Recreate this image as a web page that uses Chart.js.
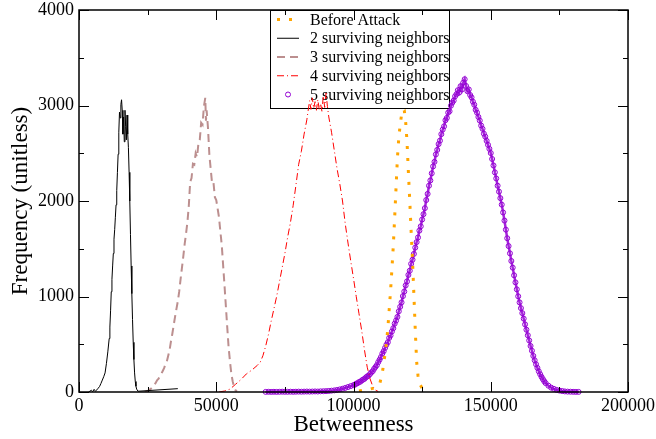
<!DOCTYPE html>
<html>
<head>
<meta charset="utf-8">
<title>Betweenness</title>
<script src="https://cdn.jsdelivr.net/npm/chart.js@4.4.0/dist/chart.umd.min.js"></script>
<style>
  html, body { margin: 0; padding: 0; background: #fff; }
  #wrap { width: 656px; height: 439px; position: relative; }
</style>
</head>
<body>
<div id="wrap"><canvas id="chart"></canvas></div>
<script>
// --- dados ---
const xTicks = [0, 50000, 100000, 150000, 200000];
const yTicks = [0, 1000, 2000, 3000, 4000];

// Before Attack
const beforeX = [102000, 104000, 106000, 108000, 109500, 110500, 111000, 111500, 112000, 112500,
  113000, 113500, 114000, 114500, 115000, 115500, 116000, 116500, 117000, 117500,
  118000, 118500, 119000, 119500, 120000, 120500, 121000, 121500, 122000, 122500,
  123000, 123500, 124000, 125000];
const beforeY = [10, 20, 30, 45, 80, 200, 300, 400, 520, 660,
  860, 1060, 1290, 1530, 1830, 2140, 2450, 2660, 2800, 2900,
  2960, 2950, 2830, 2620, 2300, 2000, 1680, 1380, 1020, 650,
  320, 170, 90, 40];

// 2 surviving neighbors
const n2X = [3500, 4500, 5000, 5500, 6000, 6500, 7000, 7500, 8000, 8500,
  9000, 9500, 10000, 10500, 11000, 11250, 11500, 11750, 12000, 12250,
  12500, 12750, 13000, 13250, 13500, 13750, 14000, 14250, 14500, 14750,
  15000, 15250, 15500, 15750, 16000, 16250, 16500, 16750, 17000, 17250,
  17500, 17750, 18000, 18250, 18500, 18750, 19000, 19250, 19500, 19750,
  20000, 20250, 20500, 20750, 21000, 21500, 36000];
const n2Y = [0, 18, 4, 28, 8, 22, 40, 58, 90, 125,
  160, 200, 300, 420, 560, 680, 850, 1050, 1180, 1320,
  1450, 1600, 1700, 1830, 1960, 2110, 2300, 2490, 2720, 2930,
  2870, 3010, 3060, 2950, 2700, 2880, 2620, 2950, 2780, 2640,
  2900, 2700, 2560, 2300, 2000, 1650, 1320, 1030, 760, 520,
  340, 200, 110, 60, 30, 8, 35];

// 3 surviving neighbors
const n3X = [24000, 25000, 26000, 27000, 27500, 28000, 28500, 29000, 29500, 30000,
  30500, 31000, 31500, 32000, 32500, 33000, 33500, 34000, 34500, 35000,
  35500, 36000, 36500, 37000, 37500, 38000, 38500, 39000, 39500, 40000,
  40500, 41000, 41500, 42000, 42500, 43000, 43500, 44000, 44500, 45000,
  45500, 46000, 46250, 46500, 47000, 47500, 48000, 48500, 49000, 49500,
  50000, 50500, 51000, 51500, 52000, 52500, 53000, 53500, 54000, 54500,
  55000, 55500, 56000, 56500, 57000, 57500];
const n3Y = [0, 10, 30, 55, 75, 100, 125, 140, 170, 190,
  220, 250, 290, 320, 380, 440, 530, 610, 700, 790,
  870, 950, 1050, 1180, 1300, 1420, 1550, 1660, 1780, 1950,
  2200, 2240, 2390, 2380, 2500, 2460, 2600, 2640, 2820, 2800,
  2990, 3080, 2840, 2950, 2760, 2480, 2330, 2180, 2190, 2040,
  2010, 1920, 1830, 1680, 1540, 1330, 1120, 900, 680, 470,
  320, 190, 110, 50, 20, 5];

// 4 surviving neighbors
const n4X = [51000, 53000, 55000, 57000, 59000, 61000, 63000, 65000, 66000, 67000,
  68000, 69000, 70000, 71000, 72000, 73000, 74000, 75000, 76000, 77000,
  78000, 79000, 80000, 81000, 82000, 83000, 83500, 84000, 84500, 85000,
  85500, 86000, 86500, 87000, 87500, 88000, 88500, 89000, 89500, 90000,
  90500, 91000, 92000, 93000, 94000, 95000, 96000, 97000, 98000, 99000,
  100000, 101000, 102000, 103000, 104000, 105000, 106000, 107000, 108000, 109000];
const n4Y = [0, 10, 30, 80, 130, 190, 230, 280, 310, 380,
  480, 600, 740, 870, 1000, 1150, 1300, 1450, 1620, 1770,
  1950, 2160, 2380, 2520, 2700, 2850, 2950, 3050, 2960, 3080,
  2970, 3040, 2950, 3060, 2960, 3020, 2940, 3100, 2980, 3130,
  2990, 2880, 2720, 2530, 2340, 2180, 2000, 1760, 1560, 1370,
  1190, 1000, 820, 640, 440, 260, 140, 60, 20, 5];

// 5 surviving neighbors
const n5X = [68000, 69000, 70000, 71000, 72000, 73000, 74000, 75000, 76000, 77000,
  78000, 79000, 80000, 81000, 82000, 83000, 84000, 85000, 86000, 87000,
  88000, 89000, 90000, 91000, 92000, 93000, 94000, 95000, 96000, 97000,
  98000, 99000,
  100000, 100500, 101000, 101500, 102000, 102500, 103000, 103500, 104000, 104500,
  105000, 105500, 106000, 106500, 107000, 107500, 108000, 108500, 109000, 109500,
  110000, 110500, 111000, 111500, 112000, 112500, 113000, 113500, 114000, 114500,
  115000, 115500, 116000, 116500, 117000, 117500, 118000, 118500, 119000, 119500,
  120000, 120500, 121000, 121500, 122000, 122500, 123000, 123500, 124000, 124500,
  125000, 125500, 126000, 126500, 127000, 127500, 128000, 128500, 129000, 129500,
  130000, 130500, 131000, 131500, 132000, 132500, 133000, 133500, 134000, 134500,
  135000, 135500, 136000, 136500, 137000, 137500, 138000, 138500, 139000, 139500,
  140000, 140500, 141000, 141500, 142000, 142500, 143000, 143500, 144000, 144500,
  145000, 145500, 146000, 146500, 147000, 147500, 148000, 148500, 149000, 149500,
  150000, 150500, 151000, 151500, 152000, 152500, 153000, 153500, 154000, 154500,
  155000, 155500, 156000, 156500, 157000, 157500, 158000, 158500, 159000, 159500,
  160000, 160500, 161000, 161500, 162000, 162500, 163000, 163500, 164000, 164500,
  165000, 165500, 166000, 166500, 167000, 167500, 168000, 168500, 169000, 169500,
  170000, 171000, 172000, 173000, 174000, 175000, 176000, 177000, 178000, 179000,
  180000, 181000, 182000];
const n5Y = [1, 2, 1, 2, 1, 2, 3, 2, 2, 3,
  2, 3, 4, 3, 4, 5, 4, 5, 6, 5,
  7, 8, 9, 11, 14, 17, 21, 27, 34, 43,
  52, 62,
  72, 76, 88, 92, 104, 108, 121, 130, 138, 152,
  164, 171, 188, 205, 218, 242, 262, 281, 312, 338,
  366, 402, 428, 462, 495, 521, 566, 592, 634, 668,
  716, 748, 786, 845, 892, 938, 1004, 1052, 1116, 1158,
  1226, 1270, 1342, 1385, 1446, 1512, 1570, 1618, 1690, 1735,
  1806, 1862, 1925, 2010, 2074, 2160, 2215, 2290, 2362, 2410,
  2488, 2535, 2596, 2632, 2700, 2748, 2782, 2846, 2870, 2925,
  2940, 2998, 3030, 3052, 3096, 3118, 3160, 3135, 3202, 3168,
  3240, 3275, 3205, 3150, 3168, 3110, 3085, 3040, 3008, 2955,
  2925, 2880, 2842, 2790, 2756, 2705, 2674, 2630, 2588, 2546,
  2502, 2440, 2372, 2300, 2236, 2160, 2098, 2030, 1962, 1880,
  1795, 1700, 1610, 1528, 1452, 1372, 1302, 1222, 1148, 1075,
  1002, 938, 878, 826, 768, 708, 652, 594, 540, 482,
  432, 378, 332, 290, 252, 216, 186, 158, 134, 112,
  93, 66, 46, 33, 22, 15, 10, 6, 4, 3,
  2, 1, 1];

const pts = (xs, ys) => xs.map((x, i) => ({ x, y: ys[i] }));

const SERIF = "'Liberation Serif', 'Times New Roman', serif";
Chart.defaults.font.family = SERIF;
Chart.defaults.color = '#000';

// Moldura com ticks para dentro nos 4 lados (estilo xmgrace)
const frameTicks = {
  id: 'frameTicks',
  afterDatasetsDraw(chart) {
    const { ctx, chartArea: a, scales } = chart;
    const major = 10, minor = 5;
    ctx.save();
    ctx.strokeStyle = '#000';
    ctx.lineWidth = 1;
    ctx.beginPath();
    const xv = scales.x.ticks.map(t => t.value);
    xv.forEach((v, i) => {
      const p = Math.round(scales.x.getPixelForValue(v)) + 0.5;
      ctx.moveTo(p, a.bottom); ctx.lineTo(p, a.bottom - major);
      ctx.moveTo(p, a.top); ctx.lineTo(p, a.top + major);
      if (i < xv.length - 1) {
        const m = Math.round(scales.x.getPixelForValue((v + xv[i + 1]) / 2)) + 0.5;
        ctx.moveTo(m, a.bottom); ctx.lineTo(m, a.bottom - minor);
        ctx.moveTo(m, a.top); ctx.lineTo(m, a.top + minor);
      }
    });
    const yv = scales.y.ticks.map(t => t.value);
    yv.forEach((v, i) => {
      const p = Math.round(scales.y.getPixelForValue(v)) + 0.5;
      ctx.moveTo(a.left, p); ctx.lineTo(a.left + major, p);
      ctx.moveTo(a.right, p); ctx.lineTo(a.right - major, p);
      if (i < yv.length - 1) {
        const m = Math.round(scales.y.getPixelForValue((v + yv[i + 1]) / 2)) + 0.5;
        ctx.moveTo(a.left, m); ctx.lineTo(a.left + minor, m);
        ctx.moveTo(a.right, m); ctx.lineTo(a.right - minor, m);
      }
    });
    ctx.stroke();
    ctx.lineWidth = 1.5;
    ctx.strokeRect(a.left, a.top, a.right - a.left, a.bottom - a.top);
    ctx.restore();
  }
};

// Legenda dentro da área do gráfico, com caixa
const boxLegend = {
  id: 'boxLegend',
  beforeDatasetsDraw(chart, args, o) {
    const ctx = chart.ctx;
    ctx.save();
    ctx.strokeStyle = '#000';
    ctx.lineWidth = 1;
    ctx.strokeRect(o.left + 0.5, o.top + 0.5, o.width, o.height);
    ctx.font = '16px ' + SERIF;
    ctx.textBaseline = 'middle';
    chart.data.datasets.forEach((ds, i) => {
      const y = o.top + o.firstRow + i * o.rowHeight;
      const x0 = o.left + 7, x1 = o.left + 29;
      if (ds.markerOnly) {
        // só o símbolo (círculo aberto)
        ctx.beginPath();
        ctx.arc((x0 + x1) / 2, y, ds.pointRadius, 0, Math.PI * 2);
        ctx.strokeStyle = ds.pointBorderColor;
        ctx.lineWidth = ds.pointBorderWidth;
        ctx.stroke();
      } else {
        ctx.beginPath();
        ctx.setLineDash(ds.borderDash || []);
        ctx.strokeStyle = ds.borderColor;
        ctx.lineWidth = ds.borderWidth;
        ctx.moveTo(x0, y);
        ctx.lineTo(x1, y);
        ctx.stroke();
        ctx.setLineDash([]);
      }
      ctx.fillStyle = '#000';
      ctx.fillText(ds.label, o.left + 40, y + 1);
    });
    ctx.restore();
  }
};

const ctx = document.getElementById('chart').getContext('2d');
const chart = new Chart(ctx, {
  type: 'line',
  data: {
    datasets: [
      {
        label: 'Before Attack',
        data: pts(beforeX, beforeY),
        borderColor: '#ffa500',
        borderWidth: 3,
        borderDash: [3, 9],
        pointRadius: 0,
        tension: 0
      },
      {
        label: '2 surviving neighbors',
        data: pts(n2X, n2Y),
        borderColor: '#000000',
        borderWidth: 1,
        pointRadius: 0
      },
      {
        label: '3 surviving neighbors',
        data: pts(n3X, n3Y),
        borderColor: '#bc8f8f',
        borderWidth: 2,
        borderDash: [8, 5],
        pointRadius: 0
      },
      {
        label: '4 surviving neighbors',
        data: pts(n4X, n4Y),
        borderColor: '#ff0000',
        borderWidth: 1,
        borderDash: [7, 3, 1, 3],
        pointRadius: 0
      },
      {
        label: '5 surviving neighbors',
        data: pts(n5X, n5Y),
        markerOnly: true,
        // linha fina por baixo para imitar a faixa densa de marcadores
        showLine: true,
        borderWidth: 2.5,
        borderColor: 'rgba(148,0,211,0.85)',
        pointStyle: 'circle',
        pointRadius: 2.5,
        pointBorderWidth: 1,
        pointBorderColor: '#9400d3',
        pointBackgroundColor: 'rgba(0,0,0,0)',
        clip: false
      }
    ]
  },
  options: {
    responsive: true,
    maintainAspectRatio: false,
    animation: false,
    layout: { padding: { top: 10, right: 28, left: 0, bottom: 0 } },
    scales: {
      x: {
        type: 'linear',
        min: 0,
        max: 200000,
        afterBuildTicks: s => { s.ticks = xTicks.map(v => ({ value: v })); },
        ticks: { callback: v => String(v), font: { size: 18 }, padding: 3, maxRotation: 0 },
        grid: { display: false, drawTicks: false },
        border: { display: false },
        title: { display: true, text: 'Betweenness', font: { size: 23 }, padding: { top: 0, bottom: 0 } },
        afterFit: s => { s.height = 47; s.paddingLeft = 0; s.paddingRight = 0; }
      },
      y: {
        type: 'linear',
        min: 0,
        max: 4000,
        afterBuildTicks: s => { s.ticks = yTicks.map(v => ({ value: v })); },
        ticks: { callback: v => String(v), font: { size: 18 }, padding: 5 },
        grid: { display: false, drawTicks: false },
        border: { display: false },
        title: { display: true, text: 'Frequency (unitless)', font: { size: 23 }, padding: { top: 7, bottom: 0 } },
        afterFit: s => { s.width = 79; s.paddingTop = 0; s.paddingBottom = 0; }
      }
    },
    plugins: {
      legend: { display: false },
      tooltip: { enabled: false },
      boxLegend: { left: 270, top: 10, width: 179, height: 98, firstRow: 9.5, rowHeight: 18.75 }
    }
  },
  plugins: [boxLegend, frameTicks]
});
</script>
</body>
</html>
